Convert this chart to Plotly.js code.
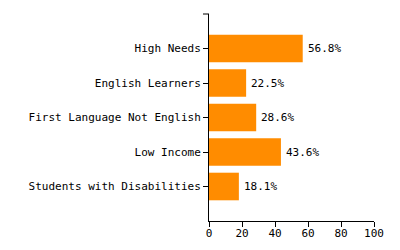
<!DOCTYPE html>
<html>
<head>
<meta charset="utf-8">
<script src="https://cdn.plot.ly/plotly-3.0.1.min.js"></script>
<style>html,body{margin:0;padding:0;background:#fff}#chart{width:400px;height:250px}</style>
</head>
<body>
<div id="chart"></div>
<script>
var categories = ["High Needs", "English Learners", "First Language Not English", "Low Income", "Students with Disabilities"];
var percentValues = [56.8, 22.5, 28.6, 43.6, 18.1];
var xTickValues = [0, 20, 40, 60, 80, 100];
var xTickLabels = ["0", "20", "40", "60", "80", "100"];

var font = {family: "DejaVu Sans Mono, monospace", size: 11, color: "#000"};

var trace = {
  type: "bar",
  orientation: "h",
  x: percentValues,
  y: categories,
  marker: {color: "#FF8C00"},
  cliponaxis: false,
  hoverinfo: "none"
};

var labels = percentValues.map(function (v, i) {
  return {
    x: v, y: categories[i], xref: "x", yref: "y",
    text: v.toFixed(1) + "%",
    showarrow: false, xanchor: "left", yanchor: "middle",
    xshift: 3, font: font
  };
});

var layout = {
  width: 400,
  height: 250,
  margin: {l: 209, r: 26, t: 14, b: 29, pad: 0},
  paper_bgcolor: "#fff",
  plot_bgcolor: "#fff",
  font: font,
  showlegend: false,
  bargap: 0.2,
  xaxis: {
    range: [0, 100],
    tickvals: xTickValues,
    ticktext: xTickLabels,
    showgrid: false,
    zeroline: false,
    showline: true,
    linecolor: "#000",
    linewidth: 1,
    ticks: "outside",
    ticklen: 5,
    tickcolor: "#000",
    tickfont: font,
    ticklabelstandoff: -3,
    fixedrange: true
  },
  yaxis: {
    type: "category",
    categoryorder: "array",
    categoryarray: categories,
    range: [5, -1],
    showgrid: false,
    zeroline: false,
    showline: true,
    linecolor: "#000",
    linewidth: 1,
    ticks: "outside",
    ticklen: 5,
    tickcolor: "#000",
    tickfont: font,
    fixedrange: true
  },
  annotations: labels,
  shapes: [
    {type: "line", xref: "paper", yref: "paper", xsizemode: "pixel", xanchor: 0, x0: -6, x1: 0, y0: 1, y1: 1, line: {color: "#000", width: 1}}
  ]
};

Plotly.newPlot("chart", [trace], layout, {displayModeBar: false, staticPlot: true});
</script>
</body>
</html>
